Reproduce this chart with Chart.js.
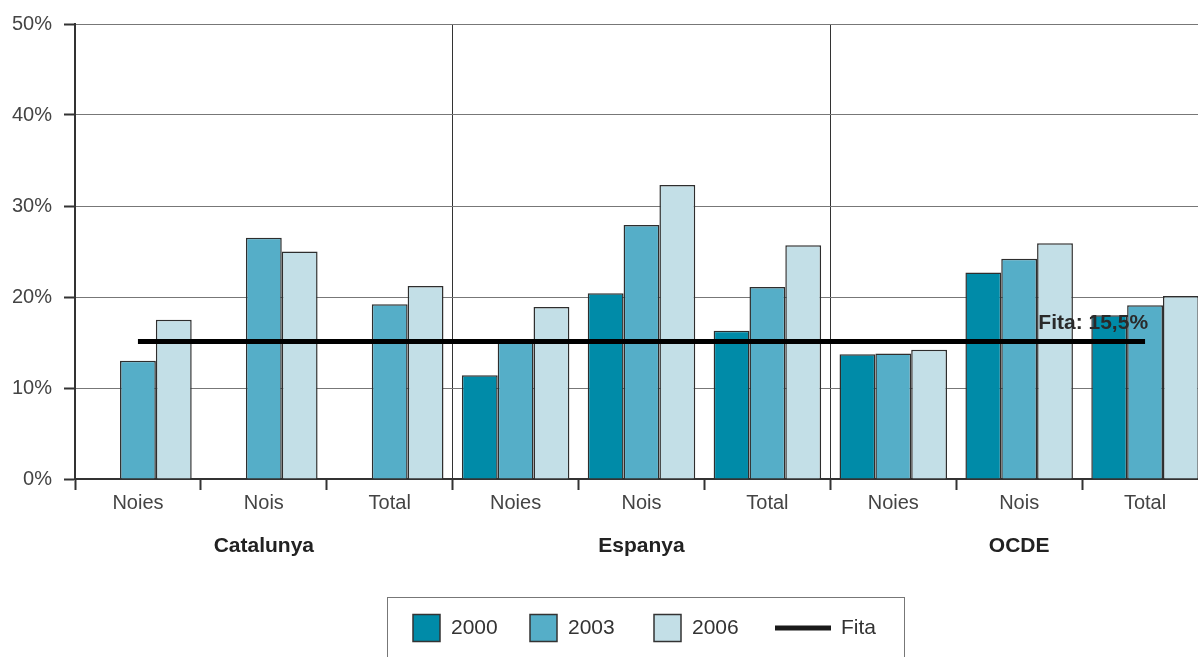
<!DOCTYPE html>
<html>
<head>
<meta charset="utf-8">
<script src="https://cdn.jsdelivr.net/npm/chart.js@4"></script>
<style>
  html, body { margin: 0; padding: 0; background: #fff; overflow: hidden; }
</style>
</head>
<body>
<canvas id="myChart" width="1208" height="657"></canvas>
<script>
const categories = ["Noies", "Nois", "Total", "Noies", "Nois", "Total", "Noies", "Nois", "Total"];
const groups = ["Catalunya", "Espanya", "OCDE"];
const years = ["2000", "2003", "2006"];
const values2000 = [null, null, null, 11.4, 20.4, 16.3, 13.7, 22.7, 18.0];
const values2003 = [13.0, 26.5, 19.2, 15.2, 27.9, 21.1, 13.8, 24.2, 19.1];
const values2006 = [17.5, 25.0, 21.2, 18.9, 32.3, 25.7, 14.2, 25.9, 20.1];
const fita = [15.1, 15.1, 15.1, 15.1, 15.1, 15.1, 15.1, 15.1, 15.1];
const fitaName = "Fita";
const fitaLabel = "Fita: 15,5%";

const FONT = "'Liberation Sans', Arial, Helvetica, sans-serif";
const colors = ["#008ba8", "#55aec8", "#c3dfe7"];

const barSet = (label, data, color) => ({
  label,
  data,
  backgroundColor: color,
  borderColor: "#2e2e2e",
  borderWidth: 1.5,
  categoryPercentage: 0.854,
  barPercentage: 1,
  order: 1,
});

// legend item starts (x) inside the box
const legendX = [413, 530, 654, 775];

// group names, fita label and the boxed legend
const extras = {
  id: "extras",
  afterDraw(chart) {
    const ctx = chart.ctx;
    const x = chart.scales.x;
    ctx.save();

    // group labels under the categories
    ctx.font = "bold 21px " + FONT;
    ctx.fillStyle = "#222";
    ctx.textAlign = "center";
    ctx.textBaseline = "middle";
    groups.forEach((g, i) => {
      ctx.fillText(g, x.getPixelForValue(i * 3 + 1), 546);
    });

    // fita label at end of the line
    const pts = chart.getDatasetMeta(3).data;
    const last = pts[pts.length - 1];
    ctx.textAlign = "right";
    ctx.textBaseline = "alphabetic";
    ctx.fillStyle = "#2a2a2a";
    ctx.fillText(fitaLabel, last.x + 3, last.y - 13);

    // legend
    ctx.strokeStyle = "#777";
    ctx.lineWidth = 1;
    ctx.strokeRect(387.5, 597.5, 517, 120);
    ctx.font = "21px " + FONT;
    ctx.textAlign = "left";
    ctx.textBaseline = "middle";
    const ly = 628;
    chart.data.datasets.forEach((ds, i) => {
      const lx = legendX[i];
      if (ds.type === "line") {
        ctx.strokeStyle = "#1a1a1a";
        ctx.lineWidth = 5;
        ctx.beginPath();
        ctx.moveTo(lx, ly);
        ctx.lineTo(lx + 56, ly);
        ctx.stroke();
        ctx.fillStyle = "#333";
        ctx.fillText(ds.label, lx + 66, ly);
      } else {
        ctx.fillStyle = ds.backgroundColor;
        ctx.fillRect(lx, ly - 13.5, 27, 27);
        ctx.strokeStyle = "#333";
        ctx.lineWidth = 1.5;
        ctx.strokeRect(lx, ly - 13.5, 27, 27);
        ctx.fillStyle = "#333";
        ctx.fillText(ds.label, lx + 38, ly);
      }
    });
    ctx.restore();
  },
};

const data = {
  labels: categories,
  datasets: [
    barSet(years[0], values2000, colors[0]),
    barSet(years[1], values2003, colors[1]),
    barSet(years[2], values2006, colors[2]),
    {
      type: "line",
      label: fitaName,
      data: fita,
      borderColor: "#000",
      borderWidth: 5,
      borderCapStyle: "butt",
      pointRadius: 0,
      fill: false,
      order: 0,
    },
  ],
};

const config = {
  type: "bar",
  data,
  options: {
    responsive: false,
    animation: false,
    devicePixelRatio: 1,
    layout: { padding: { top: 23, right: 0, bottom: 0, left: 0 } },
    plugins: {
      legend: { display: false },
      tooltip: { enabled: false },
    },
    scales: {
      x: {
        grid: {
          offset: true,
          color: (c) => (c.index === 3 || c.index === 6 ? "#333" : "rgba(0,0,0,0)"),
          lineWidth: 1,
          tickColor: "#333",
          tickWidth: 2,
          tickLength: 11,
        },
        border: { color: "#333", width: 2 },
        ticks: {
          color: "#444",
          font: { size: 20, family: FONT },
          padding: 1,
          maxRotation: 0,
          autoSkip: false,
        },
        afterFit: (s) => { s.height = 178; },
      },
      y: {
        min: 0,
        max: 50,
        grid: {
          color: "#777",
          lineWidth: 1,
          tickColor: "#333",
          tickWidth: 2,
          tickLength: 11,
        },
        border: { color: "#333", width: 2 },
        ticks: {
          stepSize: 10,
          color: "#444",
          font: { size: 20, family: FONT },
          padding: 12,
          callback: (val) => `${val}%`,
        },
        afterFit: (s) => { s.width = 75; },
      },
    },
  },
  plugins: [extras],
};

const myChart = new Chart(document.querySelector("#myChart").getContext("2d"), config);
</script>
</body>
</html>
